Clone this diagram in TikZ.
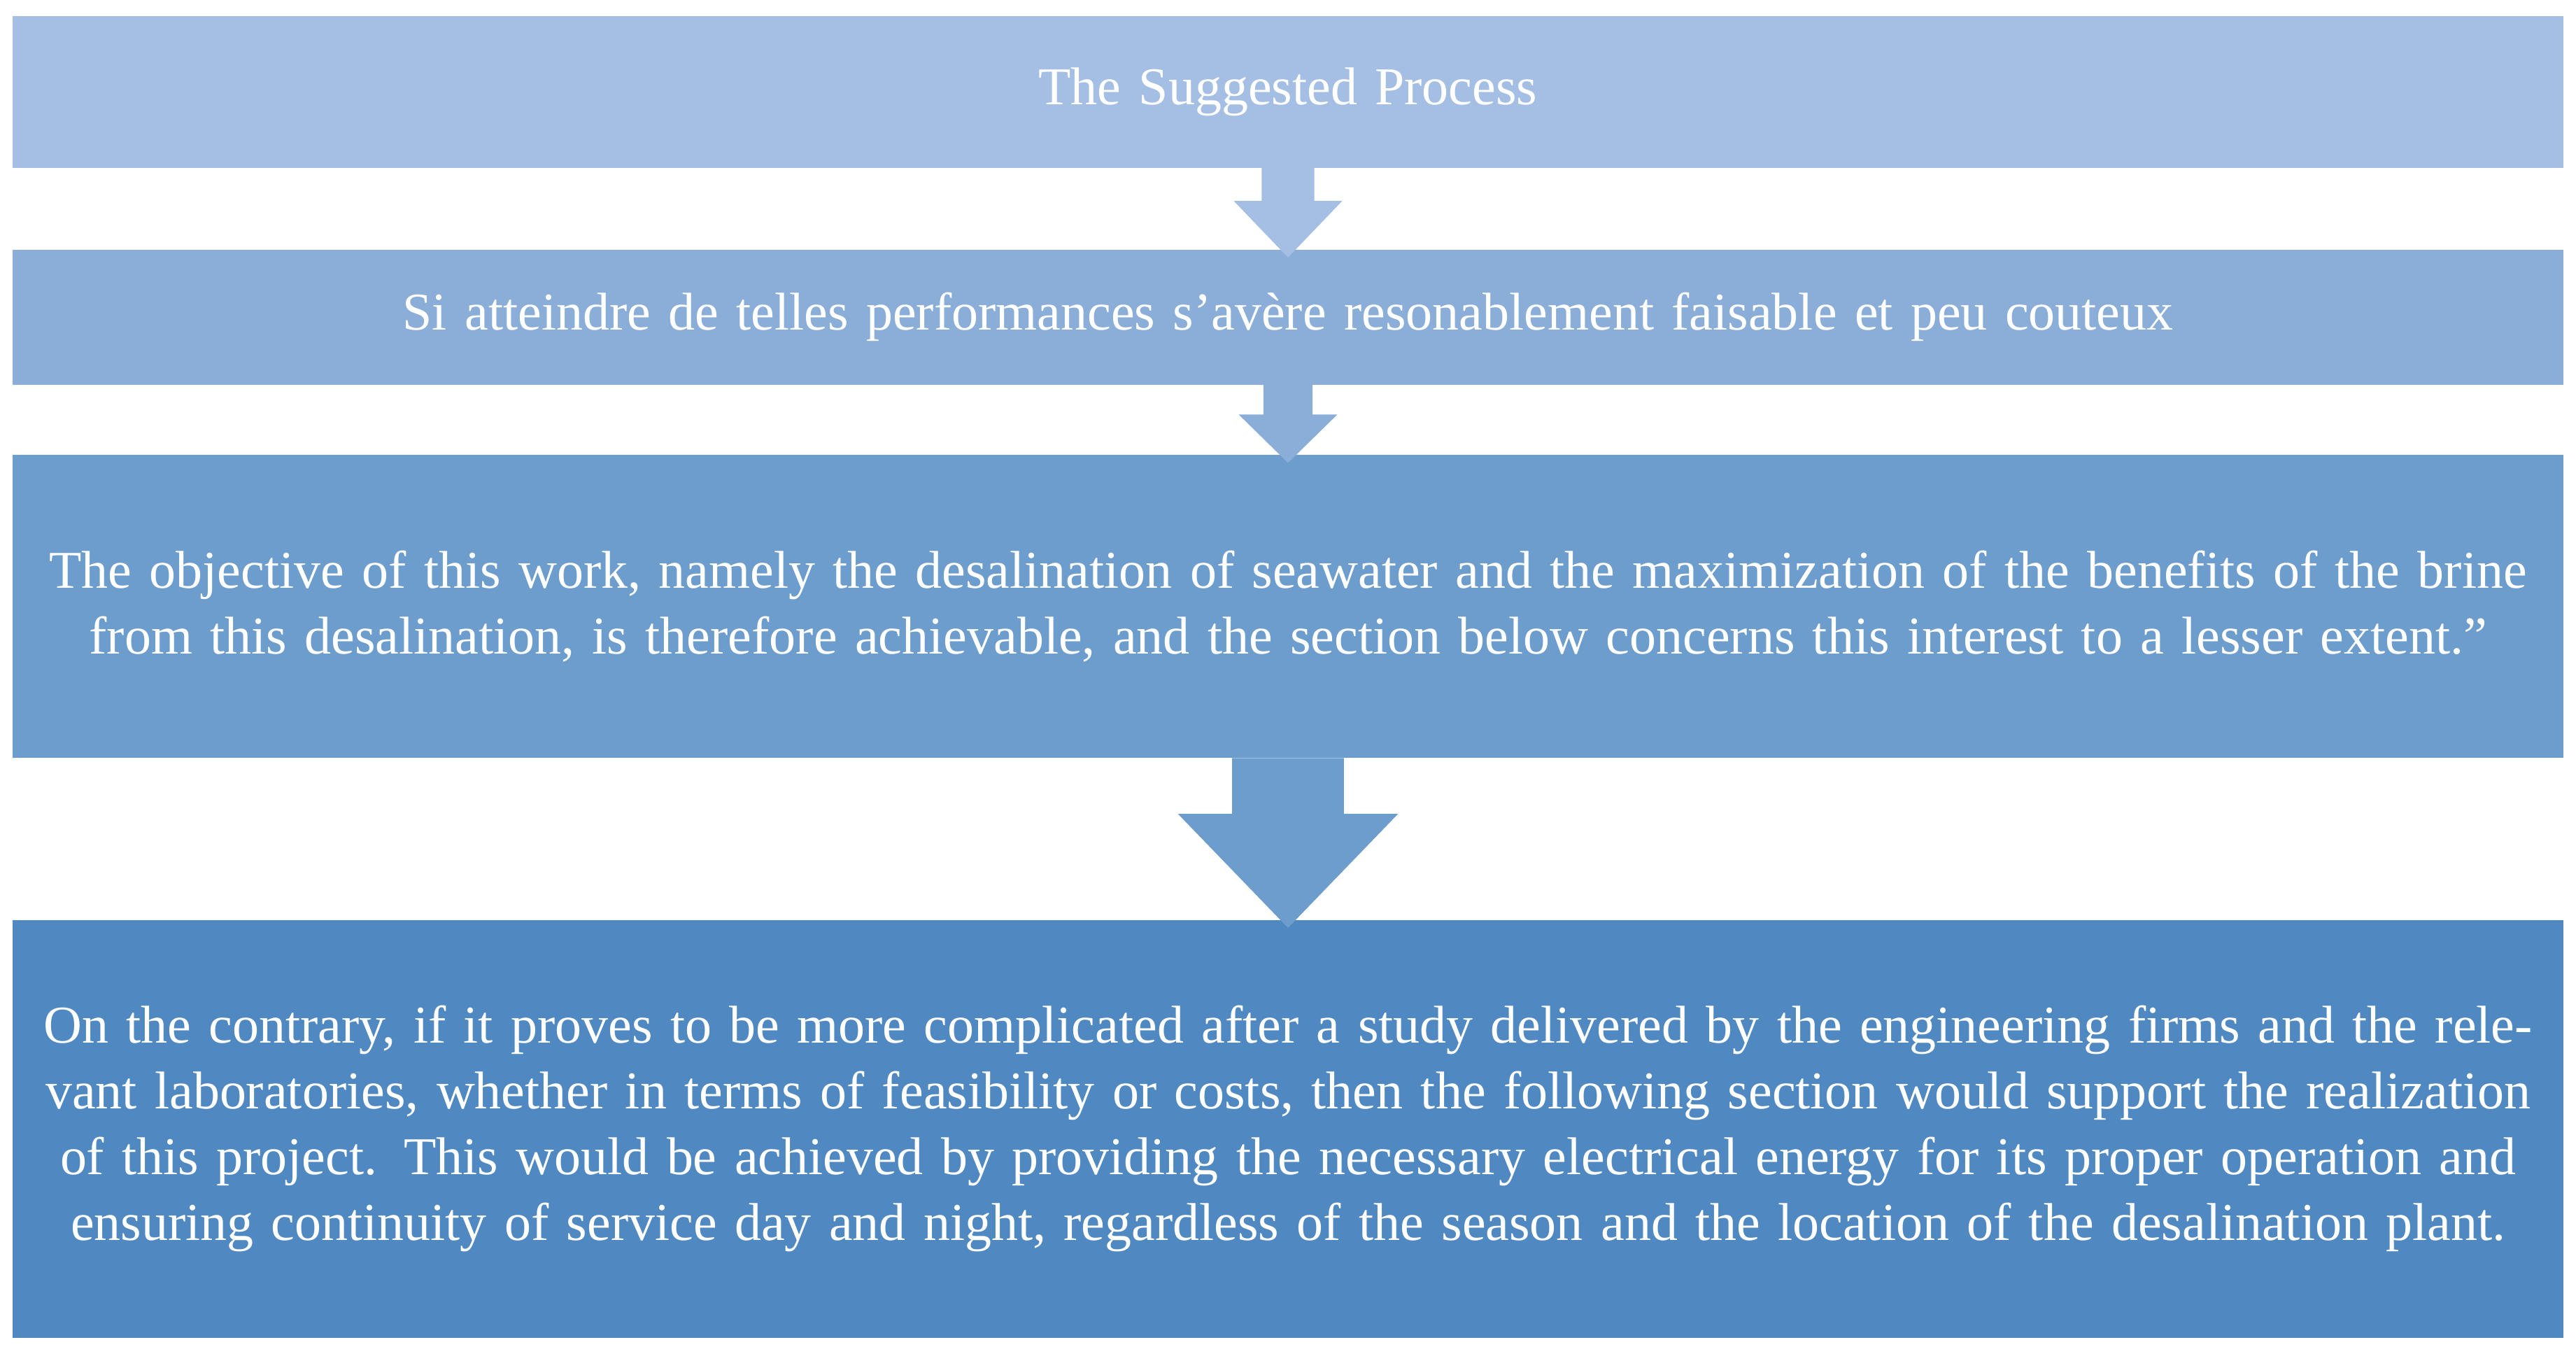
\documentclass[tikz,border=0pt]{standalone}
\usepackage{fontspec}
\setmainfont{Liberation Serif}
\usetikzlibrary{calc}
\definecolor{boxone}{HTML}{A4BFE3}
\definecolor{boxtwo}{HTML}{8AAED8}
\definecolor{boxthree}{HTML}{6D9DCC}
\definecolor{boxfour}{HTML}{5089C1}
\tikzset{
    stage/.style={draw=none, minimum width=38.8cm, inner sep=0pt,
        text width=38cm, align=center, text=white,
        font=\fontsize{23}{28.5}\selectfont},
}
% arrow from bottom of #1 to top of #2: shaft half, head half, head length, colour
\newcommand{\flowarrow}[6]{%
    \fill[#6] ($(#1.south)+(-#3,0)$) -- ++(0,{#5}) -- ++({#3-#4},0)
        -- ($(#2.north)+(0,5)$) -- ($(#1.south)+(#4,#5)$)
        -- ++({#3-#4},0) -- ($(#1.south)+(#3,0)$) -- cycle;
}

\begin{document}
\begin{tikzpicture}[x=0.025cm, y=-0.025cm]
    \useasboundingbox (0,0) rectangle (1568,824);

    \node[stage, fill=boxone, minimum height=2.3cm] (suggested) at (784,56)
        {The Suggested Process};
    \node[stage, fill=boxtwo, minimum height=2.05cm] (feasible) at (784,193)
        {Si atteindre de telles performances s'avère resonablement faisable et peu couteux};
    \node[stage, fill=boxthree, minimum height=4.6cm] (objective) at (784,369)
        {The objective of this work, namely the desalination of seawater and the maximization of the benefits
        of the brine from this desalination, is therefore achievable, and the section below concerns this
        interest to a lesser extent."};
    \node[stage, fill=boxfour, minimum height=6.35cm] (contrary) at (784,687)
        {On the contrary, if it proves to be more complicated after a study delivered by the engineering firms
        and the relevant laboratories, whether in terms of feasibility or costs, then the following section
        would support the realization of this project. This would be achieved by providing the necessary
        electrical energy for its proper operation and ensuring continuity of service day and night, regardless
        of the season and the location of the desalination plant.};

    \flowarrow{suggested}{feasible}{16}{33}{20}{boxone}
    \flowarrow{feasible}{objective}{15}{30}{18}{boxtwo}
    \flowarrow{objective}{contrary}{34}{67}{34}{boxthree}

\end{tikzpicture}
\end{document}
